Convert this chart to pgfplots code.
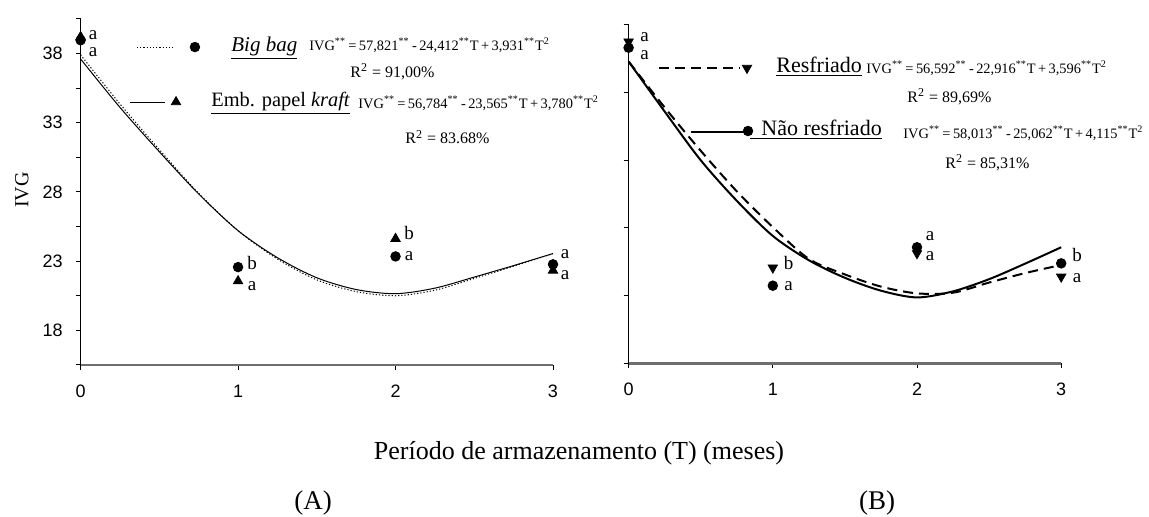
\documentclass[border=0pt]{standalone}
\usepackage{fontspec}
\setmainfont{Liberation Serif}
\setsansfont{Liberation Sans}
\usepackage{pgfplots}
\pgfplotsset{compat=1.18}
\newcommand\fs[1]{\fontsize{#1}{#1}\selectfont}
\newcommand\sst{\textsuperscript{**}}
\definecolor{axgray}{HTML}{6E6E6E}
\begin{document}
\begin{tikzpicture}
\path[use as bounding box] (0,0) rectangle (574.5pt,-258.5pt);
% ---------------- Panel A ----------------
\begin{axis}[
  at={(40.3pt,-182.5pt)}, anchor=south west,
  scale only axis, width=236.2pt, height=173.1pt,
  xmin=0, xmax=3, ymin=15.5, ymax=40.5,
  axis x line=bottom, axis y line=left,
  axis line style={-},
  x axis line style={draw=axgray, line width=1pt},
  y axis line style={draw=black, line width=0.6pt},
  tick align=outside, major tick length=2.5pt,
  tick style={black, line width=0.5pt},
  xtick={0,1,2,3}, xticklabels={0,1,2,3},
  ytick={15.5,18,20.5,23,25.5,28,30.5,33,35.5,38,40.5},
  yticklabels={{},18,{},23,{},28,{},33,{},38,{}},
  xticklabel style={font=\sffamily\fs{9}, yshift=-4pt},
  yticklabel style={font=\sffamily\fs{9}, xshift=-3pt},
  clip=false,
]
\addplot[black, line width=0.5pt, dash pattern=on 0.6pt off 1pt, smooth] coordinates {
 (0,37.9) (0.25,34.35) (0.5,31.05) (0.75,27.9) (1,25.2) (1.25,23.15) (1.5,21.65)
 (1.75,20.8) (2,20.5) (2.25,20.9) (2.5,21.75) (2.75,22.63) (3,23.55)};
\addplot[black, line width=0.5pt, smooth] coordinates {
 (0,37.6) (0.25,34.1) (0.5,30.9) (0.75,27.85) (1,25.2) (1.25,23.25) (1.5,21.8)
 (1.75,20.95) (2,20.65) (2.25,21.05) (2.5,21.85) (2.75,22.68) (3,23.55)};
\addplot[only marks, mark=triangle*, mark size=2.7pt, black] coordinates {
 (0,39.2) (1,21.56) (2,24.62) (3,22.33)};
\addplot[only marks, mark=*, mark size=2.4pt, black] coordinates {
 (0,38.95) (1,22.57) (2,23.34) (3,22.77)};
% legend samples
\addplot[black, line width=0.5pt, dash pattern=on 0.6pt off 1pt, forget plot] coordinates {(0.358,38.46) (0.593,38.46)};
\addplot[only marks, mark=*, mark size=2.4pt, black, forget plot] coordinates {(0.726,38.46)};
\addplot[black, line width=0.5pt, forget plot] coordinates {(0.314,34.49) (0.536,34.49)};
\addplot[only marks, mark=triangle*, mark size=2.7pt, black, forget plot] coordinates {(0.606,34.49)};
\end{axis}
% ---------------- Panel B ----------------
\begin{axis}[
  at={(314.3pt,-181.5pt)}, anchor=south west,
  scale only axis, width=216.3pt, height=169pt,
  xmin=0, xmax=3, ymin=15, ymax=40,
  axis x line=bottom, axis y line=left,
  axis line style={-},
  x axis line style={draw=axgray, line width=1.5pt},
  y axis line style={draw=black, line width=0.7pt},
  tick align=outside, major tick length=2.5pt,
  tick style={black, line width=0.5pt},
  xtick={0,1,2,3}, xticklabels={0,1,2,3},
  ytick={15,20,25,30,35,40}, yticklabels={},
  xticklabel style={font=\sffamily\fs{9}, yshift=-4pt},
  clip=false,
]
\addplot[black, line width=1pt, dash pattern=on 5pt off 3pt, smooth] coordinates {
 (0,37.3) (0.25,33.9) (0.5,30.7) (0.75,27.7) (1,25.05) (1.25,22.7) (1.5,21.55)
 (1.75,20.65) (2,20.15) (2.25,20.2) (2.5,20.95) (2.75,21.65) (3,22.25)};
\addplot[black, line width=1pt, smooth] coordinates {
 (0,37.3) (0.25,33.6) (0.5,30.0) (0.75,27.0) (1,24.4) (1.25,22.6) (1.5,21.3)
 (1.75,20.35) (2,19.85) (2.25,20.3) (2.5,21.2) (2.75,22.35) (3,23.56)};
\addplot[only marks, mark=triangle*, mark size=2.7pt, mark options={rotate=180}, black] coordinates {
 (0,38.77) (1,22.05) (2,23.11) (3,21.38)};
\addplot[only marks, mark=*, mark size=2.4pt, black] coordinates {
 (0,38.32) (1,20.72) (2,23.56) (3,22.37)};
% legend samples
\addplot[black, line width=1pt, dash pattern=on 5pt off 3pt, forget plot] coordinates {(0.211,36.82) (0.773,36.82)};
\addplot[only marks, mark=triangle*, mark size=2.7pt, mark options={rotate=180}, black, forget plot] coordinates {(0.821,36.82)};
\addplot[black, line width=1pt, forget plot] coordinates {(0.433,32.09) (0.807,32.09)};
\addplot[only marks, mark=*, mark size=2.4pt, black, forget plot] coordinates {(0.828,32.16)};
\end{axis}
% ---------------- texts ----------------
\node[rotate=90, font=\fs{10}] at (11pt,-95pt) {IVG};
\node[font=\fs{13}] at (289.5pt,-226.5pt) {Período de armazenamento (T) (meses)};
\node[font=\fs{13.5}] at (156.5pt,-251.5pt) {(A)};
\node[font=\fs{13.5}] at (438.5pt,-251.5pt) {(B)};
% legend A
\begin{scope}[every node/.style={anchor=west, inner sep=0pt}]
\node[font=\fs{10.5}] at (115.5pt,-24pt) {\underline{\textit{Big bag}}};
\node[font=\fs{7.2}] at (154.5pt,-22.5pt) {IVG\sst\,=\,57,821\sst\,-\,24,412\sst T\,+\,3,931\sst T\textsuperscript{2}};
\node[font=\fs{8}] at (175pt,-36pt) {R\textsuperscript{2} = 91,00\%};
\node[font=\fs{10.2}] at (105.5pt,-51.5pt) {\underline{Emb. papel \textit{kraft}}};
\node[font=\fs{7.2}] at (179pt,-51.5pt) {IVG\sst\,=\,56,784\sst\,-\,23,565\sst T\,+\,3,780\sst T\textsuperscript{2}};
\node[font=\fs{8}] at (202.5pt,-68.5pt) {R\textsuperscript{2} = 83.68\%};
% legend B
\node[font=\fs{11}] at (388pt,-33.5pt) {\underline{Resfriado}};
\node[font=\fs{7.2}] at (433pt,-34pt) {IVG\sst\,=\,56,592\sst\,-\,22,916\sst T\,+\,3,596\sst T\textsuperscript{2}};
\node[font=\fs{8}] at (453.5pt,-48.5pt) {R\textsuperscript{2} = 89,69\%};
\node[font=\fs{11}] at (375pt,-65pt) {\underline{\ \ Não resfriado}};
\node[font=\fs{7.2}] at (451.5pt,-66.5pt) {IVG\sst\,=\,58,013\sst\,-\,25,062\sst T\,+\,4,115\sst T\textsuperscript{2}};
\node[font=\fs{8}] at (472.5pt,-81.5pt) {R\textsuperscript{2} = 85,31\%};
\end{scope}
% letters
\begin{scope}[every node/.style={font=\fs{9.5}, inner sep=0pt, text height=1.4ex, text depth=0pt}]
\node at (46.5pt,-16.5pt) {a}; \node at (46.5pt,-25pt) {a};
\node at (126pt,-131.5pt) {b}; \node at (126pt,-142pt) {a};
\node at (204.5pt,-116.5pt) {b}; \node at (204.5pt,-127pt) {a};
\node at (282.5pt,-126pt) {a}; \node at (282.5pt,-136.5pt) {a};
\node at (322.3pt,-17.5pt) {a}; \node at (322.3pt,-26.5pt) {a};
\node at (394.3pt,-131.5pt) {b}; \node at (394.3pt,-142pt) {a};
\node at (465pt,-117pt) {a}; \node at (465pt,-127pt) {a};
\node at (538.5pt,-127.5pt) {b}; \node at (538.5pt,-138pt) {a};
\end{scope}
\end{tikzpicture}
\end{document}
